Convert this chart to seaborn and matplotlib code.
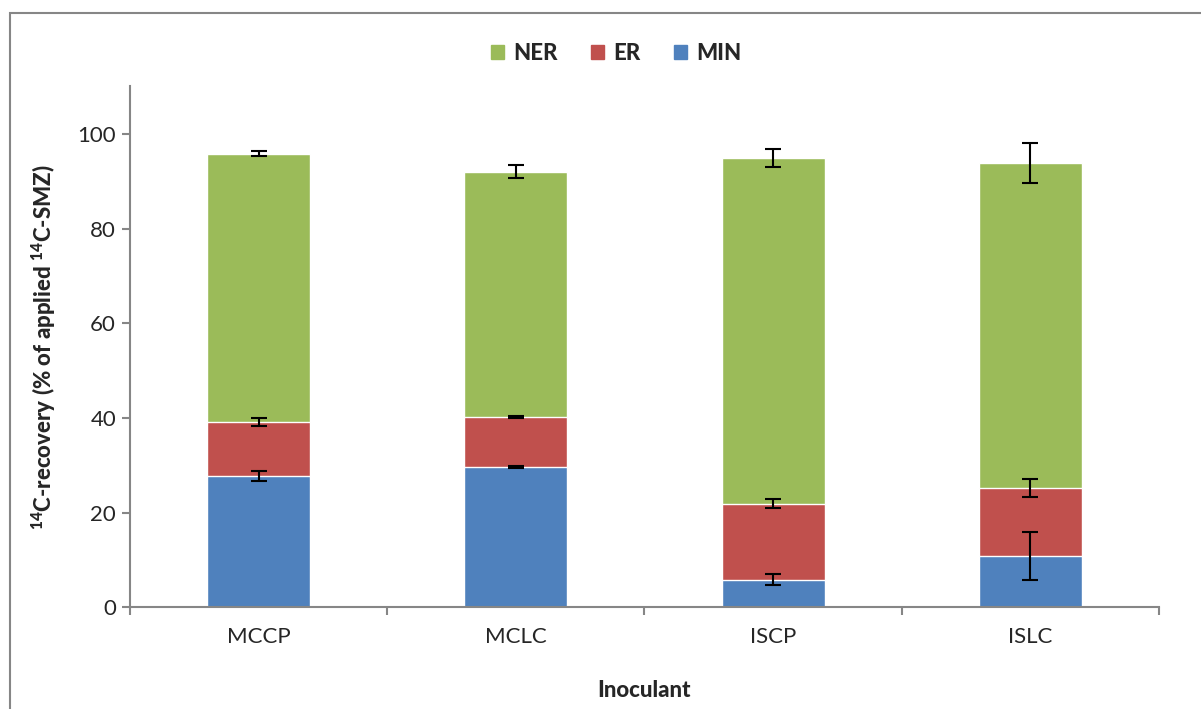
import numpy as np
import pandas as pd
import matplotlib
matplotlib.use('Agg')
import matplotlib.pyplot as plt
from matplotlib.patches import Patch, Rectangle
import seaborn as sns

# data
inoculants = ['MCCP', 'MCLC', 'ISCP', 'ISLC']
min_vals = [27.8, 29.6, 5.9, 10.9]
er_vals = [11.4, 10.6, 16.0, 14.3]
ner_vals = [56.6, 51.8, 73.0, 68.6]
min_err = [1.0, 0.2, 1.1, 5.0]
er_err = [0.8, 0.2, 0.9, 1.9]
ner_err = [0.5, 1.4, 2.0, 4.2]

c_ner = '#9BBB59'
c_er = '#C0504D'
c_min = '#4F81BD'
axis_grey = '#868686'

sns.set_style('white')
plt.rcParams['font.family'] = ['Lato', 'DejaVu Sans']
plt.rcParams['mathtext.fontset'] = 'custom'
plt.rcParams['mathtext.rm'] = 'Lato'
plt.rcParams['mathtext.bf'] = 'Lato:black'

df = pd.DataFrame({'Inoculant': inoculants, 'MIN': min_vals, 'ER': er_vals, 'NER': ner_vals})
df['top_min'] = df['MIN']
df['top_er'] = df['MIN'] + df['ER']
df['top_ner'] = df['top_er'] + df['NER']

fig = plt.figure(figsize=(12.01, 7.09), dpi=100)
ax = fig.add_axes([0.1082, 0.1432, 0.8568, 0.7348])

# stacked bars drawn back to front
sns.barplot(data=df, x='Inoculant', y='top_ner', color=c_ner, saturation=1, width=0.4, ax=ax)
sns.barplot(data=df, x='Inoculant', y='top_er', color=c_er, saturation=1, width=0.4, ax=ax)
sns.barplot(data=df, x='Inoculant', y='top_min', color=c_min, saturation=1, width=0.4, ax=ax)

xpos = np.arange(len(inoculants))
for tops, errs in [(df['top_min'], min_err), (df['top_er'], er_err), (df['top_ner'], ner_err)]:
    ax.errorbar(xpos, tops, yerr=errs, fmt='none', ecolor='black', elinewidth=1.5,
                capsize=6, capthick=1.5, zorder=5)

ax.set_xlim(-0.5, len(inoculants) - 0.5)
ax.set_ylim(0, 110)
ax.set_yticks([0, 20, 40, 60, 80, 100])

for s in ['top', 'right']:
    ax.spines[s].set_visible(False)
for s in ['left', 'bottom']:
    ax.spines[s].set_color(axis_grey)
    ax.spines[s].set_linewidth(1.5)

ax.tick_params(axis='y', which='major', direction='out', length=6, width=1.5,
               color=axis_grey, labelsize=16, pad=4, left=True)
ax.tick_params(axis='x', which='major', length=0, labelsize=16, pad=14)
ax.set_xticks(np.arange(-0.5, len(inoculants)), minor=True)
ax.tick_params(axis='x', which='minor', direction='out', length=6, width=1.5,
               color=axis_grey, bottom=True)

ax.set_xlabel('Inoculant', fontsize=16, fontweight='black', labelpad=24)
ax.set_ylabel(r'$\mathbf{^{14}C}$-recovery (% of applied $\mathbf{^{14}C}$-SMZ)',
              fontsize=16, fontweight='black', labelpad=14)

handles = [Patch(color=c_ner, label='NER'), Patch(color=c_er, label='ER'), Patch(color=c_min, label='MIN')]
leg = fig.legend(handles=handles, loc='center', bbox_to_anchor=(0.513, 0.925), ncol=3,
                 frameon=False, handlelength=0.6, handleheight=0.6, handletextpad=0.4,
                 columnspacing=1.5, prop={'weight': 'black', 'size': 16})

# outer chart frame (partly outside the image, like the reference)
fig.patches.append(Rectangle((10 / 1201, -0.05), 1.2, (709 - 13) / 709 + 0.05,
                             transform=fig.transFigure, fill=False,
                             edgecolor=axis_grey, linewidth=1.5))

fig.savefig('out.png', dpi=100)
